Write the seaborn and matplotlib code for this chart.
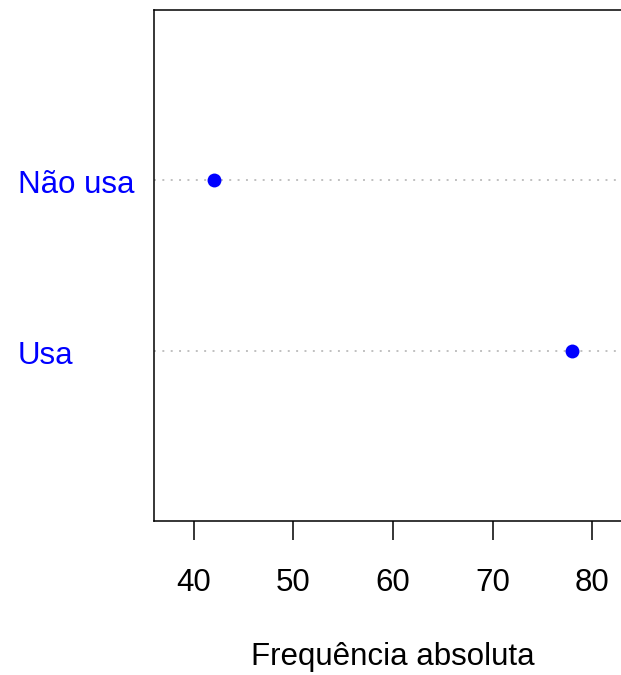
import matplotlib
matplotlib.use("Agg")
import matplotlib.pyplot as plt
import matplotlib.transforms as mtransforms
import seaborn as sns
import pandas as pd

categories = ["Não usa", "Usa"]
values = [42, 78]
xticks = [40, 50, 60, 70, 80]
xlabel = "Frequência absoluta"

sns.set_style("white")
plt.rcParams['font.family'] = ['Liberation Sans', 'DejaVu Sans']
plt.rcParams['text.color'] = 'black'
plt.rcParams['axes.labelcolor'] = 'black'

df = pd.DataFrame({"cat": categories, "val": values})

fig = plt.figure(figsize=(6.21, 6.75), dpi=100)
W, H = 621, 675
ax = fig.add_axes([154 / W, (H - 521) / H, (632 - 154) / W, (521 - 10) / H])

for i in range(len(categories)):
    ax.axhline(i, color="#c0c0c0", lw=1.4, linestyle=(0, (1, 3.3)), zorder=1)

sns.stripplot(data=df, x="val", y="cat", order=categories, orient="h",
              jitter=False, color="blue", size=10, linewidth=0, ax=ax, zorder=3)

ax.set_xlim(36, 84)
ax.set_ylim(len(categories), -1)
ax.set_xticks(xticks)
ax.set_xticklabels([str(t) for t in xticks], fontsize=22.5)
ax.tick_params(axis="x", direction="out", length=13.7, width=1.1, pad=20,
               colors="black", bottom=True)
ax.set_yticks([])
ax.set_ylabel("")
ax.set_xlabel(xlabel, fontsize=22.5, labelpad=32, color="black")

for s in ["left", "top", "bottom", "right"]:
    ax.spines[s].set_visible(True)
    ax.spines[s].set_color("black")
    ax.spines[s].set_linewidth(1.1)

trans = mtransforms.blended_transform_factory(fig.transFigure, ax.transData)
trans = mtransforms.offset_copy(trans, fig=fig, y=-13 * 72 / 100, units="points")
for i, c in enumerate(categories):
    ax.text(18 / W, i, c, transform=trans, ha="left", va="baseline",
            fontsize=22.5, color="blue", clip_on=False)

fig.savefig("out.png", dpi=100)
